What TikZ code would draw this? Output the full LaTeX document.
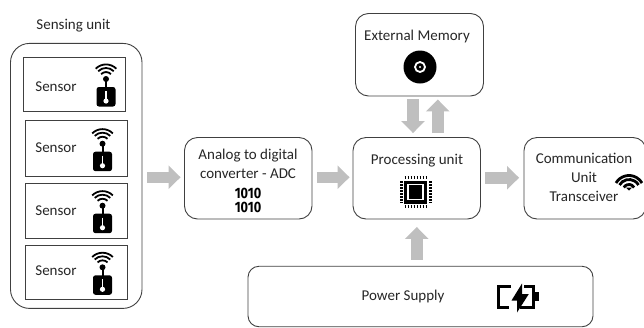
\documentclass[tikz,border=0pt]{standalone}
\usepackage{fontspec}
\setmainfont{Carlito}
\newfontfamily\bitfont{Fira Sans}
\usetikzlibrary{arrows.meta}
\definecolor{boxline}{HTML}{404040}
\definecolor{flowgray}{HTML}{BFBFBF}
\definecolor{labeltext}{HTML}{262626}
\tikzset{
    roundbox/.style={draw=boxline,line width=0.9pt,rounded corners=13pt,inner sep=0pt},
    sensorbox/.style={draw=boxline,line width=0.9pt,inner sep=0pt,minimum width=102pt},
    boxlabel/.style={text=labeltext,font=\fontsize{15}{19}\selectfont,align=center,inner sep=0pt},
    flowarrow/.style={draw=flowgray,line width=11.5pt,-{Triangle[length=12pt,width=23pt,fill=flowgray]}},
    sensoricon/.pic={
        \draw[line width=1.8pt] (-4.9,-4.9) arc (225:315:7);
        \draw[line width=1.8pt] (-7.8,-7.8) arc (225:315:11);
        \draw[line width=1.8pt] (-10.3,-10.3) arc (225:315:14.6);
        \fill (0,0) circle (3);
        \draw[line width=2pt] (0,0) -- (0,9);
        \fill[rounded corners=2.5pt] (-9.5,8) rectangle (9.5,27.5);
        \draw[white,line width=1.6pt] (0,12) -- (0,21);
        \fill[white] (0,22) circle (2.6);
    },
    bitsicon/.pic={
        \node[font=\bitfont\bfseries\fontsize{15}{14}\selectfont,xscale=0.85,align=center,inner sep=0pt] (bits) at (0,0) {1010\\1010};
    },
    chipicon/.pic={
        \draw[line width=3pt,dash pattern=on 1.6pt off 1.4pt] (-11,-14.5) -- (11,-14.5);
        \draw[line width=3pt,dash pattern=on 1.6pt off 1.4pt] (-11,14.5) -- (11,14.5);
        \draw[line width=3pt,dash pattern=on 1.6pt off 1.4pt] (-14.5,-11) -- (-14.5,11);
        \draw[line width=3pt,dash pattern=on 1.6pt off 1.4pt] (14.5,-11) -- (14.5,11);
        \fill (-11.5,-11.5) rectangle (11.5,11.5);
        \draw[white,line width=1.6pt] (-7.5,-7.5) rectangle (7.5,7.5);
    },
    discicon/.pic={
        \fill (0,0) circle (16.5);
        \draw[white,line width=1.8pt] (0,0) circle (5);
        \fill[white] (0,0) circle (1.2);
    },
    waveicon/.pic={
        \draw[line width=2.8pt] (-5.2,-3) arc (210:330:6);
        \draw[line width=2.8pt] (-9.5,-5.5) arc (210:330:11);
        \draw[line width=2.8pt] (-13,-7.5) arc (210:330:15);
        \fill (0,0) -- (-3.2,-3) -- (3.2,-3) -- cycle;
    },
    batteryicon/.pic={
        \draw[line width=3pt] (13,0) -- (0,0) -- (0,21) -- (11,21);
        \draw[line width=3pt] (26,0) -- (35,0) -- (35,21) -- (22,21);
        \fill (36.5,6) rectangle (40.5,15);
        \fill (24,-2.5) -- (13.5,14.5) -- (19,14.5) -- (19,26.5) -- (30.8,8) -- (24,8) -- cycle;
    }
}
\begin{document}
\begin{tikzpicture}[x=1pt,y=-1pt]
    \useasboundingbox (0,0) rectangle (644,327);
    \node[boxlabel] (sensingtitle) at (73.5,26) {Sensing unit};
    \node[roundbox,rounded corners=19pt,minimum width=131.5pt,minimum height=265pt] (sensing) at (76.25,175.9) {};
    \node[sensorbox,minimum height=54pt] (sensorA) at (74.75,84) {};
    \node[sensorbox,minimum height=55.5pt] (sensorB) at (76.5,148.25) {};
    \node[sensorbox,minimum height=54.5pt] (sensorC) at (76.5,211) {};
    \node[sensorbox,minimum height=54pt] (sensorD) at (76.5,272.3) {};
    \node[boxlabel] (sensorAtext) at (56,86.5) {Sensor};
    \node[boxlabel] (sensorBtext) at (56,147.5) {Sensor};
    \node[boxlabel] (sensorCtext) at (56,210.5) {Sensor};
    \node[boxlabel] (sensorDtext) at (56,271) {Sensor};
    \draw (106,79) pic {sensoricon};
    \draw (102.5,143.7) pic {sensoricon};
    \draw (102.5,205.7) pic {sensoricon};
    \draw (102.5,267.3) pic {sensoricon};

    \node[roundbox,minimum width=127.5pt,minimum height=81.5pt] (adc) at (248.25,178.25) {};
    \node[boxlabel] (adctext) at (248,163.5) {Analog to digital\\converter - ADC};
    \draw (248,200) pic {bitsicon};

    \node[roundbox,minimum width=127.5pt,minimum height=81.5pt] (proc) at (416.75,178.25) {};
    \node[boxlabel] (proctext) at (417,161) {Processing unit};
    \draw (415.5,192) pic {chipicon};

    \node[roundbox,minimum width=128pt,minimum height=82.5pt] (mem) at (419.5,54.75) {};
    \node[boxlabel] (memtext) at (417,36) {External Memory};
    \draw (420,67) pic {discicon};

    \node[roundbox,minimum width=122pt,minimum height=81.5pt] (comm) at (585,178.25) {};
    \node[boxlabel] (commtext) at (584,177.5) {Communication\\Unit\\Transceiver};
    \draw (629,190.5) pic {waveicon};

    \node[roundbox,rounded corners=11pt,minimum width=345pt,minimum height=60.5pt] (power) at (420.5,296.5) {};
    \node[boxlabel] (powertext) at (403,296) {Power Supply};
    \draw (498,286) pic {batteryicon};

    \draw[flowarrow,shorten <=5pt,shorten >=3.5pt] ([yshift=1pt]sensing.east |- adc.west) -- ([yshift=1pt]adc.west);
    \draw[flowarrow,shorten <=4.5pt,shorten >=3pt] ([yshift=1pt]adc.east) -- ([yshift=1pt]proc.west);
    \draw[flowarrow,shorten <=4.5pt,shorten >=4.5pt] ([yshift=0.5pt]proc.east) -- ([yshift=0.5pt]comm.west);
    \draw[flowarrow,shorten <=3pt,shorten >=4pt] ([xshift=-6.5pt]mem.south) -- ([xshift=-3.75pt]proc.north);
    \draw[flowarrow,shorten <=4pt,shorten >=3pt] ([xshift=21pt]proc.north) -- ([xshift=18.25pt]mem.south);
    \draw[flowarrow,shorten <=6pt,shorten >=7.5pt] (power.north -| proc.south) -- (proc.south);
\end{tikzpicture}
\end{document}
